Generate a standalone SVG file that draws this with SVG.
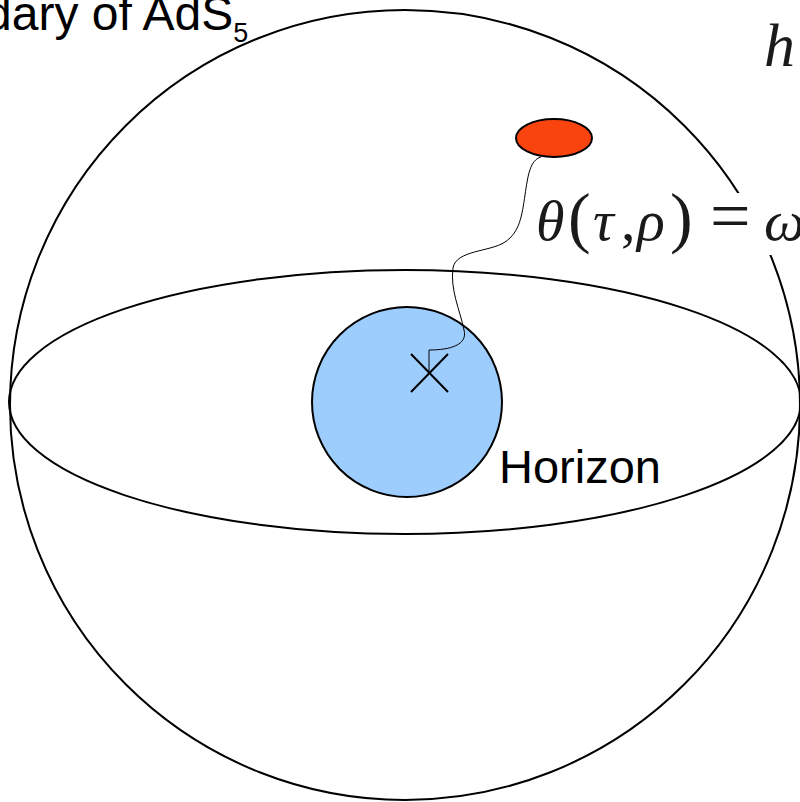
<svg xmlns="http://www.w3.org/2000/svg" width="800" height="802" viewBox="0 0 800 802">
<style>
.ln{fill:none;stroke:#000;stroke-width:2}
.sans{font-family:"Liberation Sans",Arial,sans-serif;fill:#000}
.math{font-family:"Liberation Serif","DejaVu Serif",serif;font-style:italic;fill:#1a1a1a}
.up{font-style:normal}
</style>
<rect width="800" height="802" fill="#fff"/>
<g id="boundary">
<circle class="ln" cx="405" cy="405" r="395"/>
</g>
<g id="slice">
<ellipse class="ln" cx="405" cy="402" rx="396" ry="132"/>
</g>
<g id="horizon">
<circle cx="407" cy="402" r="95" fill="#9dcdfd" stroke="#000" stroke-width="2"/>
<text class="sans" x="499" y="483" font-size="47">Horizon</text>
</g>
<g id="label-bg">
<rect x="533" y="193" width="267" height="62" fill="#fff"/>
</g>
<g id="connectors">
<path d="M429,373 V350 C450,350 468,345 464,330 C460,310 450,290 453,268 C456,250 490,252 505,242 C520,232 522,215 525,195 C528,175 530,160 541,157" fill="none" stroke="#000" stroke-width="1"/>
</g>
<g id="source">
<ellipse cx="554" cy="138" rx="38" ry="19" fill="#f9440f" stroke="#000" stroke-width="2"/>
</g>
<g id="cross">
<path class="ln" d="M411,354 L448,392 M448,354 L411,392"/>
</g>
<g id="labels">
<text class="sans" x="-15" y="30" font-size="48">dary of AdS<tspan font-size="27" dy="12">5</tspan></text>
<text class="math" x="764" y="66" font-size="62">h</text>
<text class="math" y="240" font-size="58"><tspan x="536">θ</tspan><tspan class="up" x="568" font-size="68">(</tspan><tspan x="593">τ</tspan><tspan class="up" x="621">,</tspan><tspan x="637">ρ</tspan><tspan class="up" x="670" font-size="68">)</tspan><tspan class="up" x="710" font-size="72">=</tspan><tspan x="764">ω</tspan></text>
</g>
</svg>
